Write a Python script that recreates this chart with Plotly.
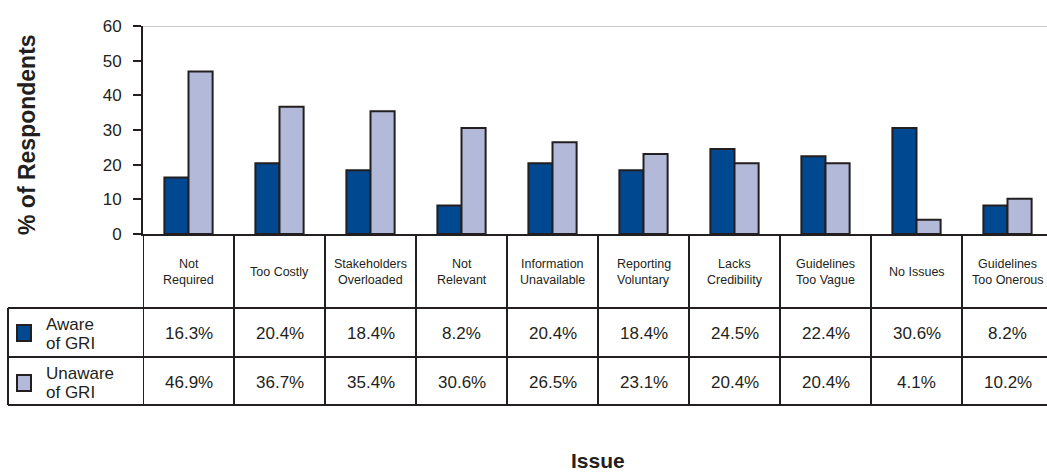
import plotly.graph_objects as go

categories = ["Not<br>Required", "Too Costly", "Stakeholders<br>Overloaded", "Not<br>Relevant",
              "Information<br>Unavailable", "Reporting<br>Voluntary", "Lacks<br>Credibility",
              "Guidelines<br>Too Vague", "No Issues", "Guidelines<br>Too Onerous"]
aware = [16.3, 20.4, 18.4, 8.2, 20.4, 18.4, 24.5, 22.4, 30.6, 8.2]
unaware = [46.9, 36.7, 35.4, 30.6, 26.5, 23.1, 20.4, 20.4, 4.1, 10.2]
series_names = [["Aware", "of GRI"], ["Unaware", "of GRI"]]
y_ticks = [0, 10, 20, 30, 40, 50, 60]

W, H = 1047, 472
DARK = "#004990"
LIGHT = "#b3bad9"
INK = "#231f20"
FONT = "Liberation Sans, Arial, sans-serif"

def py(p):
    return 1 - p / H

def px(p):
    return p / W

x_idx = list(range(len(categories)))
col_w = 91.0
x0_px = 143
x_range = [-0.5, -0.5 + (W - x0_px) / col_w]

fig = go.Figure()
fig.add_trace(go.Bar(x=x_idx, y=aware, name="Aware", marker=dict(color=DARK, line=dict(color=INK, width=2))))
fig.add_trace(go.Bar(x=x_idx, y=unaware, name="Unaware", marker=dict(color=LIGHT, line=dict(color=INK, width=2))))

shapes = []
annotations = []
# top gridline
shapes.append(dict(type="line", xref="x domain", yref="y", x0=0, x1=1, y0=60, y1=60,
                   line=dict(color="#c8c8c8", width=2), layer="below"))
# table vertical lines
for i in range(len(categories) + 1):
    shapes.append(dict(type="line", xref="x", yref="paper", x0=i - 0.5, x1=i - 0.5,
                       y0=py(234), y1=py(405), line=dict(color=INK, width=2)))
# horizontal lines
for yy in [308, 357, 405]:
    shapes.append(dict(type="line", xref="paper", yref="paper", x0=px(8), x1=1,
                       y0=py(yy), y1=py(yy), line=dict(color=INK, width=2)))
shapes.append(dict(type="line", xref="paper", yref="paper", x0=px(8), x1=px(8),
                   y0=py(308), y1=py(405), line=dict(color=INK, width=2)))
# legend swatches
for (yc, col) in [(333, DARK), (383, LIGHT)]:
    shapes.append(dict(type="rect", xref="paper", yref="paper", x0=px(17), x1=px(31),
                       y0=py(yc - 8), y1=py(yc + 8), fillcolor=col, line=dict(color=INK, width=2)))

def ann(x, y, text, size, xref="paper", xanchor="center", **kw):
    d = dict(x=x, y=y, xref=xref, yref="paper", text=text, showarrow=False,
             xanchor=xanchor, yanchor="middle",
             font=dict(size=size, color=INK, family=FONT))
    d.update(kw)
    annotations.append(d)

# category header labels
for i, c in enumerate(categories):
    lines = c.split("<br>")
    ys = [272] if len(lines) == 1 else [264, 280]
    for ln, yy in zip(lines, ys):
        ann(i, py(yy), ln, 12.5, xref="x")
# values
for vals, yc in [(aware, 333), (unaware, 382)]:
    for i, v in enumerate(vals):
        ann(i, py(yc), f"{v:.1f}%", 17, xref="x")
# legend labels
for name, yc in zip(series_names, [333, 382]):
    for ln, yy in zip(name, [yc - 9, yc + 10]):
        ann(px(44), py(yy), ln, 17, xanchor="left", align="left")
# axis titles
ann(px(27), py(135), "<b>% of Respondents</b>", 23, textangle=-90)
ann(px(598), py(460), "<b>Issue</b>", 21)

fig.update_layout(
    width=W, height=H,
    margin=dict(l=0, r=0, t=0, b=0, autoexpand=False),
    paper_bgcolor="white", plot_bgcolor="white",
    barmode="group", bargap=0.47, bargroupgap=0,
    showlegend=False,
    font=dict(family=FONT, color=INK),
    xaxis=dict(domain=[px(x0_px), 1], range=x_range, showticklabels=False, ticks="",
               showgrid=False, zeroline=False, showline=True, linecolor=INK, linewidth=2,
               automargin=False),
    yaxis=dict(domain=[py(234), py(26)], range=[0, 60], tickvals=y_ticks, ticks="outside",
               ticklen=8, tickwidth=2, tickcolor=INK, showgrid=False, zeroline=False,
               showline=True, linecolor=INK, linewidth=2, automargin=False,
               ticklabelstandoff=8,
               tickfont=dict(size=17, color=INK, family=FONT)),
    shapes=shapes, annotations=annotations,
)
fig.write_html("out.html")
